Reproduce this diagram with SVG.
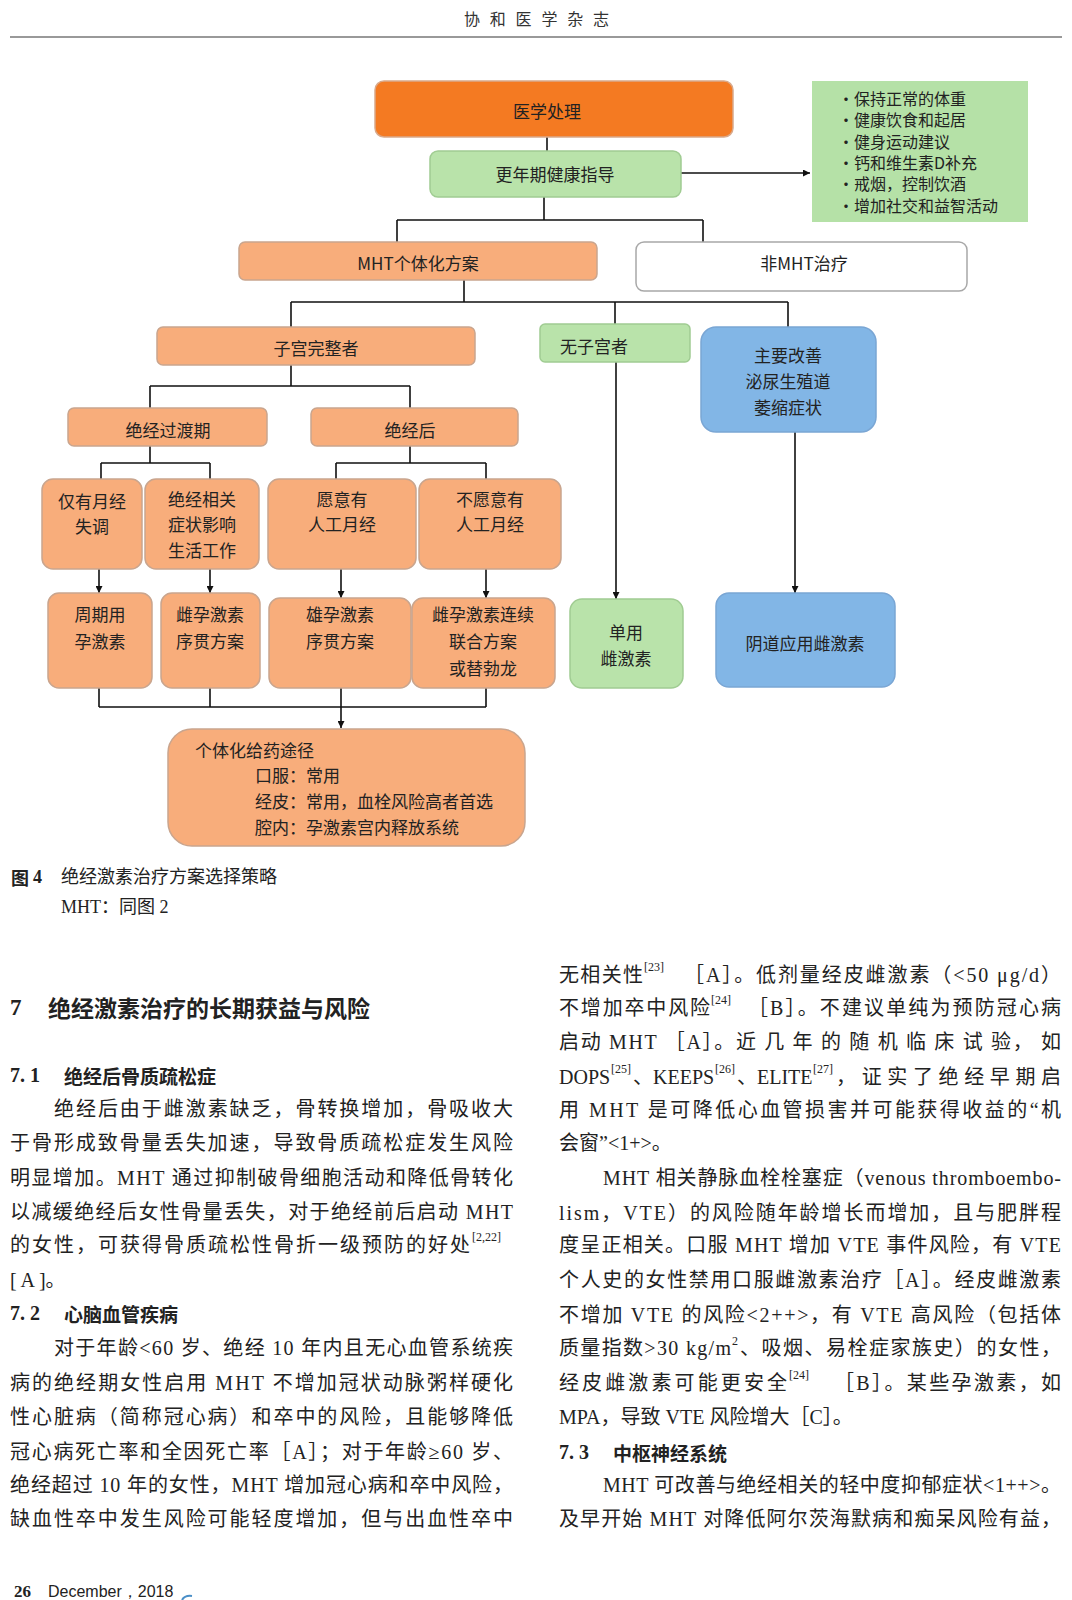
<svg xmlns="http://www.w3.org/2000/svg" width="1072" height="1600" viewBox="0 0 1072 1600">
<style>
.bg{fill:#ffffff}
.t{font-family:"Noto Sans CJK SC","Liberation Sans",sans-serif;font-size:17px;fill:#222;text-anchor:middle;dominant-baseline:central}
.tl{font-family:"Noto Sans CJK SC","Liberation Sans",sans-serif;font-size:16px;fill:#222;dominant-baseline:central}
.t17{font-family:"Noto Sans CJK SC","Liberation Sans",sans-serif;font-size:17px;fill:#222;dominant-baseline:central}
.main{fill:#F47A22;stroke:#d9a98a;stroke-width:1.5}
.sal{fill:#F8AD7B;stroke:#c9a58e;stroke-width:1.5}
.grn{fill:#B9E3AA;stroke:#a0cc92;stroke-width:1.5}
.blu{fill:#82B6E6;stroke:#7aa6d4;stroke-width:1.5}
.wht{fill:#ffffff;stroke:#a8a8a8;stroke-width:1.5}
.ln{fill:none;stroke:#111;stroke-width:1.6}
.ar{fill:none;stroke:#111;stroke-width:1.6;marker-end:url(#ah)}
.body{font-family:"Liberation Serif","Noto Sans CJK SC",serif;font-size:20px;fill:#222;dominant-baseline:central}
.sup{font-size:12px}
.h1{font-family:"Noto Sans CJK SC","Liberation Sans",sans-serif;font-size:23px;font-weight:bold;fill:#222;dominant-baseline:central}
.h2{font-family:"Noto Sans CJK SC","Liberation Sans",sans-serif;font-size:19px;font-weight:bold;fill:#222;dominant-baseline:central}
.num{font-family:"Liberation Serif",serif;font-weight:bold;fill:#222;dominant-baseline:central}
.cap{font-family:"Liberation Serif","Noto Sans CJK SC",serif;font-size:18px;fill:#222;dominant-baseline:central}
</style>
<defs>
<marker id="ah" viewBox="0 0 10 10" refX="10" refY="5" markerWidth="7" markerHeight="7" markerUnits="userSpaceOnUse" orient="auto">
<path d="M0,0 L10,5 L0,10 z" fill="#111"/>
</marker>
</defs>
<rect class="bg" x="0" y="0" width="1072" height="1600"/>

<!-- header -->
<text x="464" y="18" textLength="145" lengthAdjust="spacing" style="font-family:'Noto Sans CJK SC',sans-serif;font-size:16px;fill:#333;dominant-baseline:central">协和医学杂志</text>
<line x1="10" y1="37" x2="1062" y2="37" stroke="#777" stroke-width="1.5"/>

<!-- connectors -->
<g id="connectors">
<path class="ln" d="M547,137 V151"/>
<path class="ar" d="M681,173 H810"/>
<path class="ln" d="M544,197 V220 M397,220 H703 M397,220 V242 M703,220 V242"/>
<path class="ln" d="M464,280 V302 M291,302 H788 M291,302 V327 M615,302 V324 M788,302 V327"/>
<path class="ln" d="M291,365 V386 M150,386 H410 M150,386 V408 M410,386 V408"/>
<path class="ln" d="M150,446 V463 M101,463 H210 M101,463 V479 M210,463 V479"/>
<path class="ln" d="M410,446 V463 M336,463 H486 M336,463 V479 M486,463 V479"/>
<path class="ar" d="M99,569 V593"/>
<path class="ar" d="M210,569 V593"/>
<path class="ar" d="M341,569 V598"/>
<path class="ar" d="M486,569 V598"/>
<path class="ar" d="M616,362 V599"/>
<path class="ar" d="M795,432 V593"/>
<path class="ln" d="M99,688 V707 M210,688 V707 M341,688 V707 M486,688 V707 M99,707 H486"/>
<path class="ar" d="M341,707 V728"/>
</g>

<g id="n-yixue"><rect class="main" x="375" y="81" width="358" height="56" rx="9"/><text class="t" x="547" y="110">医学处理</text></g>
<g id="n-guide"><rect class="grn" x="430" y="151" width="251" height="46" rx="8"/><text class="t" x="555" y="173">更年期健康指导</text></g>
<g id="n-list"><rect x="812" y="81" width="216" height="141" fill="#B5E1A7"/>
<text class="tl" x="838" y="98">•保持正常的体重</text>
<text class="tl" x="838" y="119">•健康饮食和起居</text>
<text class="tl" x="838" y="141">•健身运动建议</text>
<text class="tl" x="838" y="162">•钙和维生素D补充</text>
<text class="tl" x="838" y="183">•戒烟，控制饮酒</text>
<text class="tl" x="838" y="205">•增加社交和益智活动</text>
</g>
<g id="n-mht"><rect class="sal" x="239" y="242" width="358" height="38" rx="6"/><text class="t" x="418" y="262">MHT个体化方案</text></g>
<g id="n-nonmht"><rect class="wht" x="636" y="242" width="331" height="49" rx="8"/><text class="t" x="804" y="262">非MHT治疗</text></g>
<g id="n-zigong"><rect class="sal" x="157" y="327" width="318" height="38" rx="6"/><text class="t" x="316" y="347">子宫完整者</text></g>
<g id="n-wuzigong"><rect class="grn" x="540" y="324" width="150" height="38" rx="5"/><text class="t" x="594" y="345">无子宫者</text></g>
<g id="n-blue"><rect class="blu" x="701" y="327" width="175" height="105" rx="15"/>
<text class="t" x="788" y="354">主要改善</text><text class="t" x="788" y="380">泌尿生殖道</text><text class="t" x="788" y="406">萎缩症状</text></g>
<g id="n-guodu"><rect class="sal" x="68" y="408" width="199" height="38" rx="6"/><text class="t" x="168" y="429">绝经过渡期</text></g>
<g id="n-hou"><rect class="sal" x="311" y="408" width="207" height="38" rx="6"/><text class="t" x="410" y="429">绝经后</text></g>

<g id="n-r3a"><rect class="sal" x="42" y="479" width="100" height="90" rx="11"/><text class="t" x="92" y="500">仅有月经</text><text class="t" x="92" y="525">失调</text></g>
<g id="n-r3b"><rect class="sal" x="145" y="479" width="114" height="90" rx="11"/><text class="t" x="202" y="498">绝经相关</text><text class="t" x="202" y="523">症状影响</text><text class="t" x="202" y="549">生活工作</text></g>
<g id="n-r3c"><rect class="sal" x="268" y="479" width="148" height="90" rx="11"/><text class="t" x="342" y="498">愿意有</text><text class="t" x="342" y="523">人工月经</text></g>
<g id="n-r3d"><rect class="sal" x="419" y="479" width="142" height="90" rx="11"/><text class="t" x="490" y="498">不愿意有</text><text class="t" x="490" y="523">人工月经</text></g>

<g id="n-r4a"><rect class="sal" x="48" y="593" width="104" height="95" rx="11"/><text class="t" x="100" y="613">周期用</text><text class="t" x="100" y="640">孕激素</text></g>
<g id="n-r4b"><rect class="sal" x="161" y="593" width="99" height="95" rx="11"/><text class="t" x="210" y="613">雌孕激素</text><text class="t" x="210" y="640">序贯方案</text></g>
<g id="n-r4c"><rect class="sal" x="269" y="598" width="142" height="90" rx="11"/><text class="t" x="340" y="613">雄孕激素</text><text class="t" x="340" y="640">序贯方案</text></g>
<g id="n-r4d"><rect class="sal" x="412" y="598" width="143" height="90" rx="11"/><text class="t" x="483" y="613">雌孕激素连续</text><text class="t" x="483" y="640">联合方案</text><text class="t" x="483" y="667">或替勃龙</text></g>
<g id="n-danyong"><rect class="grn" x="570" y="599" width="113" height="89" rx="12"/><text class="t" x="626" y="631">单用</text><text class="t" x="626" y="657">雌激素</text></g>
<g id="n-yindao"><rect class="blu" x="716" y="593" width="179" height="94" rx="13"/><text class="t" x="805" y="642">阴道应用雌激素</text></g>

<g id="n-route"><rect class="sal" x="168" y="729" width="357" height="117" rx="24"/>
<text class="t17" x="195" y="749">个体化给药途径</text>
<text class="t17" x="255" y="774">口服：常用</text>
<text class="t17" x="255" y="800">经皮：常用，血栓风险高者首选</text>
<text class="t17" x="255" y="826">腔内：孕激素宫内释放系统</text>
</g>

<!-- caption -->
<text class="cap" x="11" y="877"><tspan style="font-family:'Noto Sans CJK SC',sans-serif;font-weight:bold">图</tspan><tspan font-weight="bold" dx="4">4</tspan><tspan x="61">绝经激素治疗方案选择策略</tspan></text>
<text class="cap" x="61" y="907">MHT：同图 2</text>

<!-- left column -->
<text class="num" x="10" y="1007" font-size="23">7</text>
<text class="h1" x="48" y="1007">绝经激素治疗的长期获益与风险</text>
<text class="num" x="10" y="1075" font-size="20">7. 1</text>
<text class="h2" x="64" y="1075">绝经后骨质疏松症</text>
<text class="body" x="54" y="1109" textLength="459" lengthAdjust="spacing">绝经后由于雌激素缺乏，骨转换增加，骨吸收大</text>
<text class="body" x="10" y="1143" textLength="503" lengthAdjust="spacing">于骨形成致骨量丢失加速，导致骨质疏松症发生风险</text>
<text class="body" x="10" y="1178" textLength="503" lengthAdjust="spacing">明显增加。MHT 通过抑制破骨细胞活动和降低骨转化</text>
<text class="body" x="10" y="1212" textLength="503" lengthAdjust="spacing">以减缓绝经后女性骨量丢失，对于绝经前后启动 MHT</text>
<text class="body" x="10" y="1245" textLength="460" lengthAdjust="spacing">的女性，可获得骨质疏松性骨折一级预防的好处</text>
<text class="body sup" x="472" y="1237">[2,22]</text>
<text class="body" x="10" y="1280">[ A ]。</text>
<text class="num" x="10" y="1313" font-size="20">7. 2</text>
<text class="h2" x="64" y="1313">心脑血管疾病</text>
<text class="body" x="54" y="1348" textLength="459" lengthAdjust="spacing">对于年龄&lt;60 岁、绝经 10 年内且无心血管系统疾</text>
<text class="body" x="10" y="1383" textLength="503" lengthAdjust="spacing">病的绝经期女性启用 MHT 不增加冠状动脉粥样硬化</text>
<text class="body" x="10" y="1417" textLength="503" lengthAdjust="spacing">性心脏病（简称冠心病）和卒中的风险，且能够降低</text>
<text class="body" x="10" y="1452" textLength="503" lengthAdjust="spacing">冠心病死亡率和全因死亡率［A］；对于年龄≥60 岁、</text>
<text class="body" x="10" y="1485" textLength="503" lengthAdjust="spacing">绝经超过 10 年的女性，MHT 增加冠心病和卒中风险，</text>
<text class="body" x="10" y="1519" textLength="503" lengthAdjust="spacing">缺血性卒中发生风险可能轻度增加，但与出血性卒中</text>

<!-- right column -->
<text class="body" x="559" y="975" textLength="84" lengthAdjust="spacing">无相关性</text>
<text class="body sup" x="644" y="967">[23]</text>
<text class="body" x="684" y="975" textLength="377" lengthAdjust="spacing">［A］。低剂量经皮雌激素（&lt;50 μg/d）</text>
<text class="body" x="559" y="1008" textLength="151" lengthAdjust="spacing">不增加卒中风险</text>
<text class="body sup" x="711" y="1000">[24]</text>
<text class="body" x="748" y="1008" textLength="313" lengthAdjust="spacing">［B］。不建议单纯为预防冠心病</text>
<text class="body" x="559" y="1042" textLength="502" lengthAdjust="spacing">启动 MHT ［A］。近 几 年 的 随 机 临 床 试 验， 如</text>
<text class="body" x="559" y="1077">DOPS</text>
<text class="body sup" x="611" y="1069">[25]</text>
<text class="body" x="633" y="1077">、KEEPS</text>
<text class="body sup" x="715" y="1069">[26]</text>
<text class="body" x="737" y="1077">、ELITE</text>
<text class="body sup" x="813" y="1069">[27]</text>
<text class="body" x="836" y="1077" textLength="225" lengthAdjust="spacing">，证实了绝经早期启</text>
<text class="body" x="559" y="1110" textLength="502" lengthAdjust="spacing">用 MHT 是可降低心血管损害并可能获得收益的“机</text>
<text class="body" x="559" y="1143">会窗”&lt;1+&gt;。</text>
<text class="body" x="603" y="1178" textLength="458" lengthAdjust="spacing">MHT 相关静脉血栓栓塞症（venous thromboembo-</text>
<text class="body" x="559" y="1213" textLength="502" lengthAdjust="spacing">lism，VTE）的风险随年龄增长而增加，且与肥胖程</text>
<text class="body" x="559" y="1245" textLength="502" lengthAdjust="spacing">度呈正相关。口服 MHT 增加 VTE 事件风险，有 VTE</text>
<text class="body" x="559" y="1280" textLength="502" lengthAdjust="spacing">个人史的女性禁用口服雌激素治疗［A］。经皮雌激素</text>
<text class="body" x="559" y="1315" textLength="502" lengthAdjust="spacing">不增加 VTE 的风险&lt;2++&gt;，有 VTE 高风险（包括体</text>
<text class="body" x="559" y="1348" textLength="172" lengthAdjust="spacing">质量指数&gt;30 kg/m</text>
<text class="body sup" x="732" y="1341">2</text>
<text class="body" x="740" y="1348" textLength="321" lengthAdjust="spacing">、吸烟、易栓症家族史）的女性，</text>
<text class="body" x="559" y="1383" textLength="228" lengthAdjust="spacing">经皮雌激素可能更安全</text>
<text class="body sup" x="789" y="1375">[24]</text>
<text class="body" x="834" y="1383" textLength="227" lengthAdjust="spacing">［B］。某些孕激素，如</text>
<text class="body" x="559" y="1417">MPA，导致 VTE 风险增大［C］。</text>
<text class="num" x="559" y="1452" font-size="20">7. 3</text>
<text class="h2" x="613" y="1452">中枢神经系统</text>
<text class="body" x="603" y="1485" textLength="458" lengthAdjust="spacing">MHT 可改善与绝经相关的轻中度抑郁症状&lt;1++&gt;。</text>
<text class="body" x="559" y="1519" textLength="502" lengthAdjust="spacing">及早开始 MHT 对降低阿尔茨海默病和痴呆风险有益，</text>

<!-- footer -->
<text class="num" x="14" y="1591" font-size="17">26</text>
<text x="48" y="1591" style="font-family:'Liberation Sans',sans-serif;font-size:16px;fill:#222;dominant-baseline:central">December，2018</text>
<path d="M182,1600 Q185,1595 192,1596" fill="none" stroke="#4a8fc8" stroke-width="2"/>
</svg>
